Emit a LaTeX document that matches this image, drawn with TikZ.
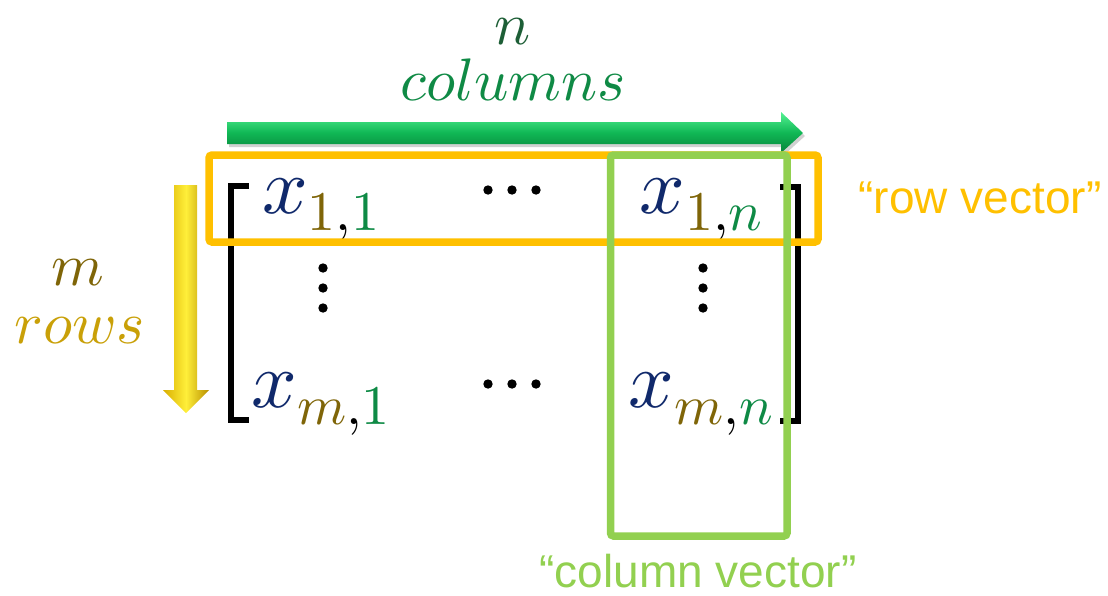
\documentclass[tikz,border=0pt]{standalone}
\usepackage{fontspec}
\DeclareFontFamily{OML}{cmm}{\skewchar\font127 }
\DeclareFontShape{OML}{cmm}{m}{it}{<->cmmi10}{}
\DeclareFontShape{OML}{cmm}{b}{it}{<->cmmib10}{}
\DeclareFontFamily{OMS}{cmsy}{\skewchar\font48 }
\DeclareFontShape{OMS}{cmsy}{m}{n}{<->cmsy10}{}
\DeclareFontShape{OMS}{cmsy}{b}{n}{<->cmbsy10}{}
\DeclareFontFamily{OT1}{cmr}{\hyphenchar\font45 }
\DeclareFontShape{OT1}{cmr}{m}{n}{<->cmr10}{}
\newfontfamily\arialf{Liberation Sans}
\definecolor{xblue}{HTML}{10296B}
\definecolor{olv}{HTML}{7F6508}
\definecolor{sgreen}{HTML}{0E8A45}
\definecolor{ncol}{HTML}{1D5E36}
\definecolor{colgreen}{HTML}{0F8A45}
\definecolor{mcol}{HTML}{7F6508}
\definecolor{rowsc}{HTML}{C9A008}
\definecolor{orangeC}{HTML}{FFC000}
\definecolor{lgreen}{HTML}{92D050}
\definecolor{arrG1}{HTML}{55F293}
\definecolor{arrG2}{HTML}{10B855}
\definecolor{arrG3}{HTML}{08823A}
\definecolor{arrY1}{HTML}{D9AE00}
\definecolor{arrY2}{HTML}{FFEF3A}
\definecolor{arrY3}{HTML}{B88F00}
\newcommand{\sbs}[2]{_{\lower5pt\hbox{$\scriptstyle\textcolor{olv}{#1}\textcolor{black}{,}\textcolor{sgreen}{#2}$}}}
\begin{document}
\begin{tikzpicture}[x=1pt,y=-1pt,
  txt/.style={inner sep=0pt, outer sep=0pt, anchor=base},
  big/.style={txt, font=\fontsize{80}{90}\selectfont},
  lab/.style={txt, font=\fontsize{60}{66}\selectfont},
  sans/.style={txt, font=\arialf\fontsize{46}{50}\selectfont},
  brk/.style={line width=5.5pt, line join=miter, draw=black},
  dotc/.style={fill=black},
  rowbox/.style={draw=orangeC, line width=7.5pt, rounded corners=3pt},
  colbox/.style={draw=lgreen, line width=7.5pt, rounded corners=3pt}]
\useasboundingbox (0,0) rectangle (1108,595);

% top labels
\node[lab, text=ncol] (nlab) at (513,44) {$n$};
\node[lab, text=colgreen] (collab) at (513,100) {$columns$};
% left labels
\node[lab, text=mcol] (mlab) at (78,285) {$m$};
\node[lab, text=rowsc] (rowslab) at (80,343) {$rows$};

% green arrow (shadow + body)
\fill[black, opacity=0.18] (229,125) -- (783,125) -- (783,115) -- (805,136) -- (783,156) -- (783,147) -- (229,147) -- cycle;
\shade[top color=arrG1, bottom color=arrG3, middle color=arrG2]
  (227,122) -- (781,122) -- (781,112) -- (803,133) -- (781,153) -- (781,144) -- (227,144) -- cycle;

% yellow arrow
\shade[left color=arrY1, right color=arrY3, middle color=arrY2]
  (174,185) -- (197,185) -- (197,390) -- (209,390) -- (186,413) -- (163,390) -- (174,390) -- cycle;

% brackets
\draw[brk] (249,186) -- (231,186) -- (231,420) -- (249,420);
\draw[brk] (780,187) -- (798,187) -- (798,421) -- (780,421);

% entries
\node[big, text=xblue] (a11) at (321,213) {$x\sbs{1}{1}$};
\node[big, text=xblue] (a1n) at (701,213) {$x\sbs{1}{n}$};
\node[big, text=xblue] (am1) at (321,407) {$x\sbs{m}{1}$};
\node[big, text=xblue] (amn) at (701,407) {$x\sbs{m}{n}$};

% dots
\foreach \dx in {488,512,536} {
  \fill[dotc] (\dx,190) circle (4.7);
  \fill[dotc] (\dx,384) circle (4.7);
}
\foreach \dy in {268,288,308} {
  \fill[dotc] (323,\dy) circle (4.7);
  \fill[dotc] (703,\dy) circle (4.7);
}

% boxes
\draw[rowbox] (209,155) rectangle (818,242);
\draw[colbox] (610.5,155) rectangle (787,536);

% box labels
\node[sans, text=orangeC] (rowvec) at (980,213) {“row vector”};
\node[sans, text=lgreen] (colvec) at (698,587) {“column vector”};
\end{tikzpicture}
\end{document}
